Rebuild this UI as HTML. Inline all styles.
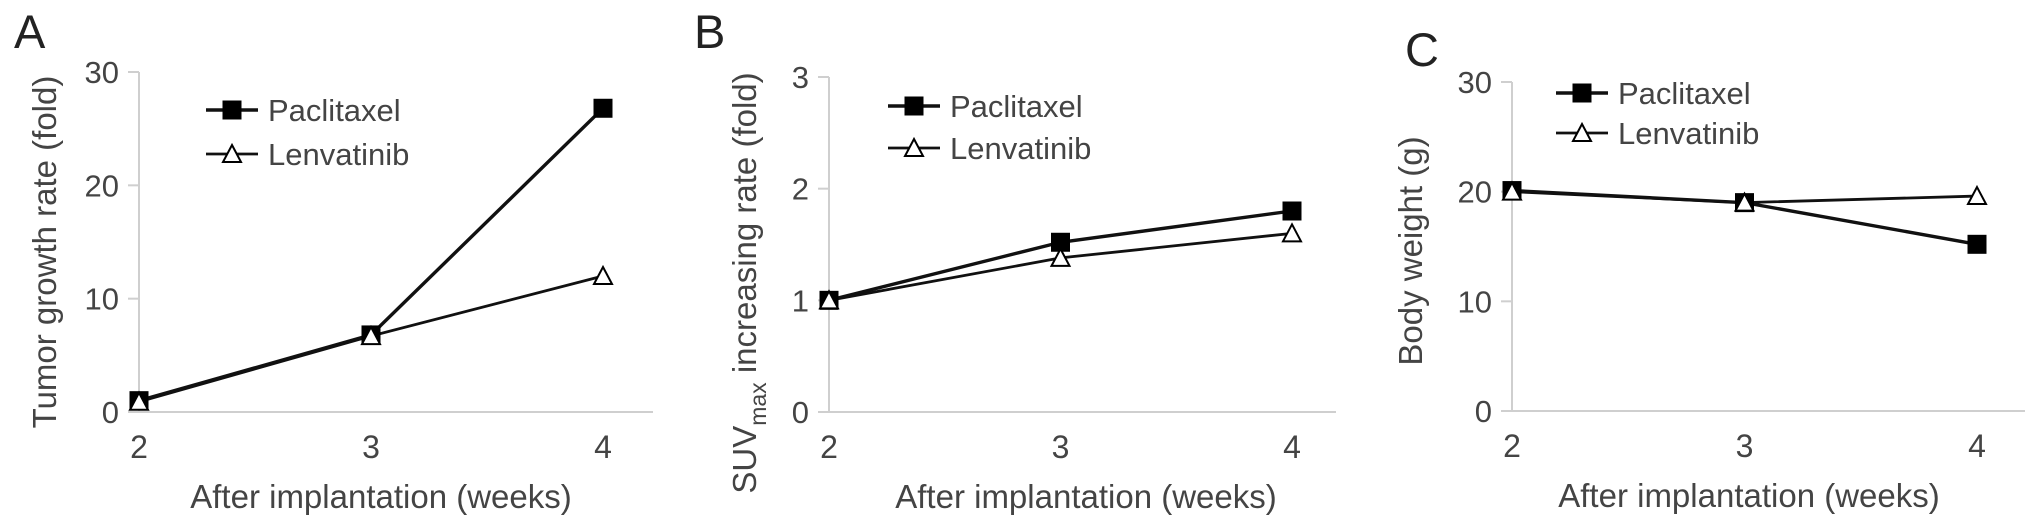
<!DOCTYPE html>
<html><head><meta charset="utf-8"><style>
html,body{margin:0;padding:0;background:#fff;}
svg{display:block;font-family:"Liberation Sans",sans-serif;}
</style></head><body>
<svg id="fig" width="2032" height="526" viewBox="0 0 2032 526" xmlns="http://www.w3.org/2000/svg"></svg>
<script>
const weeks = [2, 3, 4];
const tumorPaclitaxel = [1, 6.8, 26.8];
const tumorLenvatinib = [0.9, 6.7, 12.0];
const suvPaclitaxel = [1, 1.52, 1.8];
const suvLenvatinib = [1, 1.38, 1.6];
const weightPaclitaxel = [20.1, 19.0, 15.2];
const weightLenvatinib = [20.0, 19.0, 19.6];
const tumorTicks = [0, 10, 20, 30];
const suvTicks = [0, 1, 2, 3];
const weightTicks = [0, 10, 20, 30];

const NS = "http://www.w3.org/2000/svg";
const svg = document.getElementById('fig');
function mk(tag, attrs, parent, text){
  const e = document.createElementNS(NS, tag);
  for (const k in attrs) e.setAttribute(k, attrs[k]);
  if (text !== undefined) e.textContent = text;
  (parent || svg).appendChild(e);
  return e;
}
function square(g, x, y){
  return mk('rect', {x:x-9, y:y-9, width:18, height:18, fill:'#000', stroke:'#000', 'stroke-width':1}, g);
}
function tri(g, x, y){
  return mk('polygon', {points:`${x},${y-9} ${x+9},${y+8} ${x-9},${y+8}`, fill:'#fff', stroke:'#000', 'stroke-width':2}, g);
}

function panel(cfg){
  const g = mk('g', {});
  
  
  const xs = v => cfg.x0 + (v - weeks[0]) * (cfg.x1 - cfg.x0) / (weeks[weeks.length-1] - weeks[0]);
  const ys = v => cfg.y0 - (v - cfg.ticks[0]) * (cfg.y0 - cfg.y1) / (cfg.ticks[cfg.ticks.length-1] - cfg.ticks[0]);

  const lab = mk('text', {x:cfg.labX, y:cfg.labY, 'font-size':47, fill:'#222'}, g, cfg.letter);
  
  

  const ya = mk('line', {x1:cfg.x0, y1:cfg.y0, x2:cfg.x0, y2:ys(cfg.ticks[cfg.ticks.length-1]), stroke:'#cfcfcf', 'stroke-width':2}, g);
  
  
  const xa = mk('line', {x1:cfg.x0, y1:cfg.y0, x2:cfg.xEnd, y2:cfg.y0, stroke:'#cfcfcf', 'stroke-width':2}, g);
  
  

  cfg.ticks.forEach(t => {
    const y = ys(t);
    const tk = mk('line', {x1:cfg.x0-11, y1:y, x2:cfg.x0, y2:y, stroke:'#cfcfcf', 'stroke-width':2}, g);
    
    
    const tl = mk('text', {x:cfg.x0-20, y:y+11, 'font-size':31, fill:'#444', 'text-anchor':'end'}, g, String(t));
    
    
  });
  weeks.forEach(w => {
    const tl = mk('text', {x:xs(w), y:cfg.y0+46, 'font-size':32, fill:'#444', 'text-anchor':'middle'}, g, String(w));
    
    
  });
  const xt = mk('text', {x:cfg.xtX, y:cfg.y0+96, 'font-size':33, fill:'#444', 'text-anchor':'middle'}, g, 'After implantation (weeks)');
  
  

  const yt = mk('text', {x:0, y:0, 'font-size':33, fill:'#444', 'text-anchor':'middle', transform:`translate(${cfg.ytX},${cfg.ytY}) rotate(-90)`}, g);
  
  
  if (cfg.suv){
    mk('tspan', {}, yt, 'SUV');
    mk('tspan', {'font-size':23, dy:10}, yt, 'max');
    mk('tspan', {dy:-10}, yt, ' increasing rate (fold)');
  } else {
    yt.textContent = cfg.ytitle;
  }

  const series = [
    {vals:cfg.pac, w:3.4, mark:square, name:'paclitaxel'},
    {vals:cfg.len, w:2.8, mark:tri, name:'lenvatinib'}
  ];
  series.slice().reverse().forEach(s => {
    const pts = weeks.map((w,i) => `${xs(w)},${ys(s.vals[i])}`).join(' ');
    const pl = mk('polyline', {points:pts, fill:'none', stroke:'#111', 'stroke-width':s.w}, g);
    
    
  });
  series.forEach(s => {
    weeks.forEach((w,i) => {
      const m = s.mark(g, xs(w), ys(s.vals[i]));
      
      
    });
  });

  const lg = mk('g', {}, g);
  
  
  [['Paclitaxel', square, cfg.legY1, 3.4], ['Lenvatinib', tri, cfg.legY2, 2.8]].forEach(([n, f, y, w]) => {
    const e = mk('g', {}, lg);
    
    
    mk('line', {x1:cfg.legX, y1:y, x2:cfg.legX+52, y2:y, stroke:'#111', 'stroke-width':w}, e);
    f(e, cfg.legX+26, y);
    mk('text', {x:cfg.legX+62, y:y+11, 'font-size':31, fill:'#444'}, e, n);
  });
}

panel({name:'panel-a-tumor-growth', letter:'A', labX:14, labY:48, x0:139, x1:603, xEnd:653, y0:412, y1:72,
  ticks:tumorTicks, pac:tumorPaclitaxel, len:tumorLenvatinib, xtX:381, ytX:56, ytY:252,
  ytitle:'Tumor growth rate (fold)', legX:206, legY1:110, legY2:154});
panel({name:'panel-b-suvmax', letter:'B', labX:694, labY:48, x0:829, x1:1292, xEnd:1336, y0:412, y1:77,
  ticks:suvTicks, pac:suvPaclitaxel, len:suvLenvatinib, xtX:1086, ytX:756, ytY:283, suv:true,
  legX:888, legY1:106, legY2:148});
panel({name:'panel-c-body-weight', letter:'C', labX:1405, labY:66, x0:1512, x1:1977, xEnd:2025, y0:411, y1:82,
  ticks:weightTicks, pac:weightPaclitaxel, len:weightLenvatinib, xtX:1749, ytX:1422, ytY:251,
  ytitle:'Body weight (g)', legX:1556, legY1:93, legY2:133});
</script>
</body></html>
